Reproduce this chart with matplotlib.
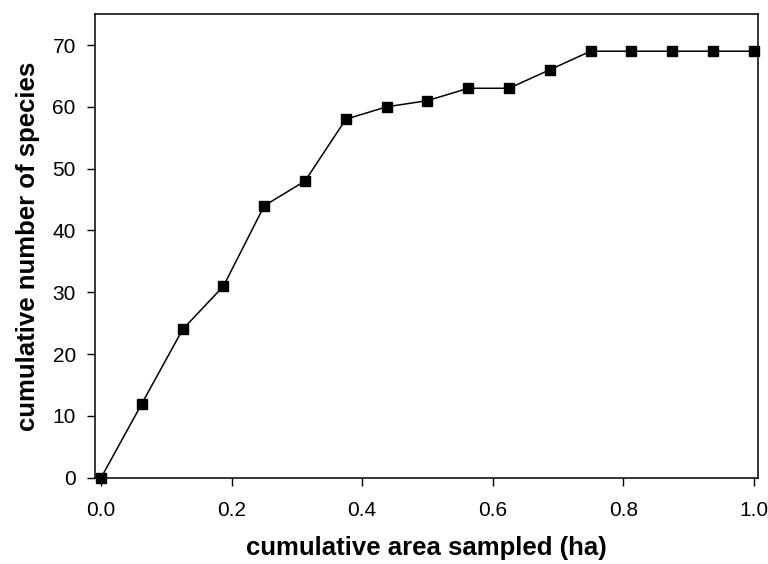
import matplotlib
matplotlib.use("Agg")
import matplotlib.pyplot as plt
import numpy as np

plt.rcParams['font.family'] = ['Liberation Sans', 'DejaVu Sans']

### species accumulation data
area = [0.0, 0.0625, 0.125, 0.1875, 0.25, 0.3125, 0.375, 0.4375, 0.5,
        0.5625, 0.625, 0.6875, 0.75, 0.8125, 0.875, 0.9375, 1.0]
species = [0, 12, 24, 31, 44, 48, 58, 60, 61, 63, 63, 66, 69, 69, 69, 69, 69]

fig = plt.figure(figsize=(7.68, 5.64), dpi=100)
ax = fig.add_axes([0.124, 0.153, 0.8626, 0.822])

ax.plot(area, species, color='black', linewidth=1.1, marker='s',
        markersize=7, markerfacecolor='black', markeredgecolor='black',
        clip_on=False, zorder=3)

ax.set_xlim(-0.009, 1.006)
ax.set_ylim(0, 75)
ax.set_xticks(np.arange(0, 1.01, 0.2))
ax.set_xticklabels(['0.0', '0.2', '0.4', '0.6', '0.8', '1.0'])
ax.set_yticks(range(0, 71, 10))

ax.tick_params(axis='both', labelsize=15, direction='out', length=6,
               width=1, top=False, right=False)
ax.tick_params(axis='x', pad=11)
ax.tick_params(axis='y', pad=8)
for s in ax.spines.values():
    s.set_linewidth(1.1)

ax.set_xlabel('cumulative area sampled (ha)', fontsize=18.5, fontweight='bold',
              labelpad=11)
ax.set_ylabel('cumulative number of species', fontsize=18.5, fontweight='bold',
              labelpad=9)

fig.savefig('out.png', dpi=100)
